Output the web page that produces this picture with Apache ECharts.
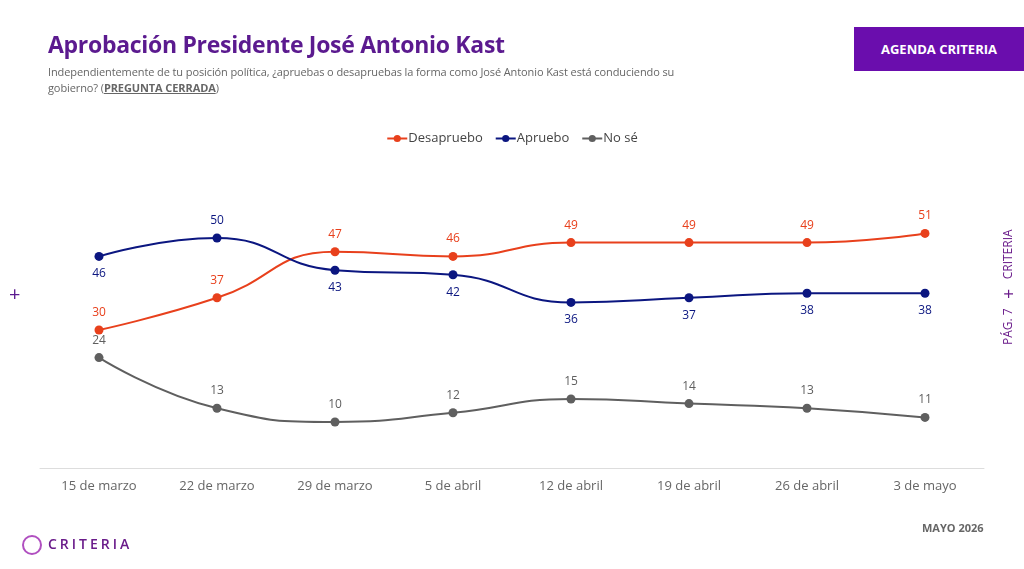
<!DOCTYPE html>
<html><head><meta charset="utf-8">
<script src="https://cdn.jsdelivr.net/npm/echarts@6/dist/echarts.min.js"></script>
<style>
body{margin:0;width:1024px;height:569px;background:#fff;font-family:"Open Sans",sans-serif;position:relative;overflow:hidden}
#c{position:absolute;left:0;top:0;width:1024px;height:569px}
.t{position:absolute;left:48px;top:28px;font:700 23px "Open Sans";color:#5b1a8f;letter-spacing:-0.3px}
.s{position:absolute;left:48px;top:64px;width:665px;font:11px/16px "Open Sans";color:#666;letter-spacing:-0.1px}
.s b{text-decoration:underline}
.tag{position:absolute;left:854px;top:27px;width:170px;height:44px;background:#6a0dad;color:#fff;font:700 13px "Open Sans";text-align:center;line-height:44px}
.plus{position:absolute;left:9px;top:280px;font:20px "Open Sans";color:#5b1a8f}
.side{position:absolute;left:996px;top:212px;width:20px;height:150px;writing-mode:vertical-rl;transform:rotate(180deg);font:12px "Open Sans";color:#6a1b8a;text-align:center}
.may{position:absolute;left:922px;top:520px;font:700 11px "Open Sans";color:#666}
.logo{position:absolute;left:22px;top:534px;font:600 14px "Open Sans";color:#6a1b8a;letter-spacing:3px}
.logo i{display:inline-block;width:20px;height:20px;border:2px solid #b04fc0;border-radius:50%;vertical-align:middle;margin-right:6px;box-sizing:border-box}
</style></head><body>
<div id="c"></div>
<div class="t">Aprobación Presidente José Antonio Kast</div>
<div class="s">Independientemente de tu posición política, ¿apruebas o desapruebas la forma como José Antonio Kast está conduciendo su gobierno? (<b>PREGUNTA CERRADA</b>)</div>
<div class="tag">AGENDA CRITERIA</div>
<div class="plus">+</div>
<div class="side">PÁG. 7 &nbsp;&nbsp;<span style="font-size:18px">+</span>&nbsp;&nbsp; CRITERIA</div>
<div class="may">MAYO 2026</div>
<div class="logo"><i></i>CRITERIA</div>
<script>
const fechas = ['15 de marzo','22 de marzo','29 de marzo','5 de abril','12 de abril','19 de abril','26 de abril','3 de mayo'];
const desapruebo = [30,37,47,46,49,49,49,51];
const apruebo = [46,50,43,42,36,37,38,38];
const noSe = [24,13,10,12,15,14,13,11];
const apruebaPos = ['bottom','top','bottom','bottom','bottom','bottom','bottom','bottom'];

const chart = echarts.init(document.getElementById('c'));
function serie(name, data, color, pos) {
  return {
    name: name, type: 'line', smooth: true, data: data.map((v,i)=>({value:v,label:{position:Array.isArray(pos)?pos[i]:pos}})),
    symbol: 'circle', symbolSize: 9,
    lineStyle: {color: color, width: 2}, itemStyle: {color: color},
    label: {show: true, color: color, fontSize: 12, fontFamily: 'Open Sans', distance: 7}
  };
}
chart.setOption({
  animation: false,
  legend: {
    top: 127, left: 'center', itemGap: 12, itemWidth: 20, itemHeight: 9,
    textStyle: {fontSize: 13, color: '#444', fontFamily: 'Open Sans', padding: [0,0,0,-4]},
    data: ['Desapruebo','Apruebo','No sé']
  },
  grid: {left: 40, right: 40, top: 192, height: 276},
  xAxis: {
    type: 'category', data: fechas,
    axisLine: {lineStyle: {color: '#ddd'}}, axisTick: {show: false},
    axisLabel: {color: '#666', fontSize: 13, margin: 12, fontFamily: 'Open Sans'}
  },
  yAxis: {type: 'value', min: 0, max: 60, show: false},
  series: [
    serie('Desapruebo', desapruebo, '#e8401c', 'top'),
    serie('Apruebo', apruebo, '#0b1680', apruebaPos),
    serie('No sé', noSe, '#5f5f5f', 'top')
  ]
});
</script>
</body></html>
